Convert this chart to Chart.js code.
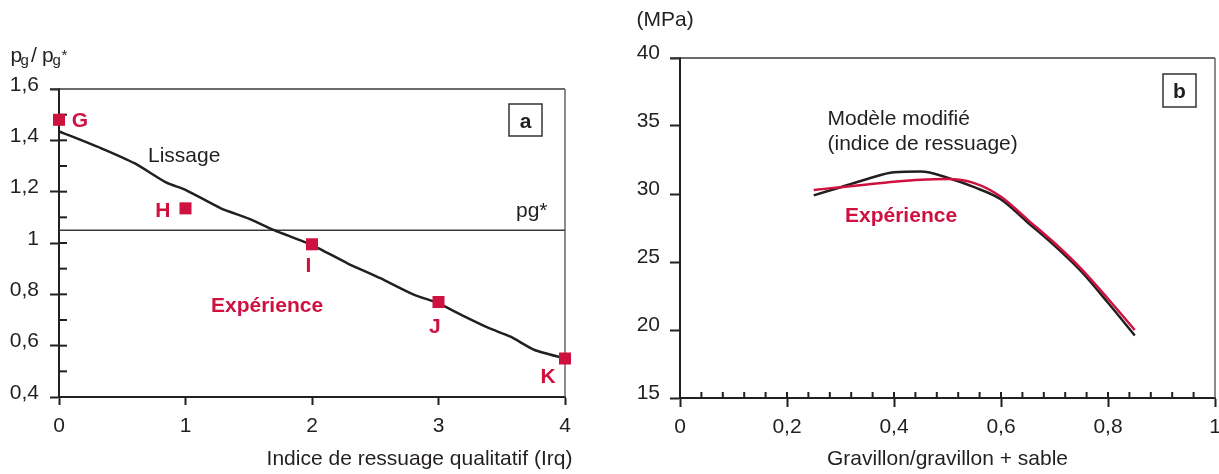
<!DOCTYPE html>
<html>
<head>
<meta charset="utf-8">
<script src="https://cdn.jsdelivr.net/npm/chart.js@4.4.1/dist/chart.umd.min.js"></script>
<style>
  body { margin: 0; background: #fff; }
  #wrap { position: relative; width: 1219px; height: 474px; }
  canvas { position: absolute; top: 0; }
</style>
</head>
<body>
<div id="wrap">
  <canvas id="chartA" width="600" height="474" style="left:0"></canvas>
  <canvas id="chartB" width="619" height="474" style="left:600px"></canvas>
</div>
<script>
// ---- Data: panel a (pg / pg* vs Irq) ----
const irqValues = [0, 1, 2, 3, 4];
const pgRatio = [1.48, 1.135, 0.995, 0.77, 0.55];
const pointNames = ['G', 'H', 'I', 'J', 'K'];
const lissageX = [0, 0.33, 0.6, 0.85, 1.0, 1.28, 1.5, 1.7, 2.0, 2.28, 2.54, 2.8, 3.0, 3.2, 3.4, 3.57, 3.76, 4.0];
const lissageY = [1.435, 1.37, 1.31, 1.235, 1.207, 1.135, 1.095, 1.05, 0.992, 0.921, 0.863, 0.80, 0.765, 0.715, 0.668, 0.635, 0.583, 0.55];
const pgStar = 1.05;

// ---- Data: panel b (MPa vs gravillon ratio) ----
const gravRatio = [0.25, 0.3, 0.35, 0.4, 0.45, 0.5, 0.55, 0.6, 0.65, 0.7, 0.75, 0.8, 0.85];
const modeleMPa = [29.9, 30.5, 31.1, 31.6, 31.65, 31.2, 30.5, 29.6, 27.9, 26.2, 24.3, 22.0, 19.6];
const experienceMPa = [30.3, 30.5, 30.7, 30.9, 31.05, 31.1, 30.8, 29.8, 28.1, 26.4, 24.5, 22.3, 20.0];

const INK = '#231f20';
const RED = '#cf1140';
const FONT = '"Liberation Sans", Arial, Helvetica, sans-serif';

const toPts = (xs, ys) => xs.map((x, i) => ({ x: x, y: ys[i] }));
const frLabel = v => String(Math.round(v * 100) / 100).replace('.', ',');

function text(ctx, str, x, y, opts = {}) {
  ctx.save();
  ctx.font = `${opts.bold ? 'bold ' : ''}${opts.size || 21}px ${FONT}`;
  ctx.fillStyle = opts.color || INK;
  ctx.textAlign = opts.align || 'left';
  ctx.textBaseline = 'alphabetic';
  ctx.fillText(str, x, y);
  ctx.restore();
}

function line(ctx, x1, y1, x2, y2, color, width) {
  ctx.save();
  ctx.strokeStyle = color;
  ctx.lineWidth = width;
  ctx.beginPath();
  ctx.moveTo(x1, y1);
  ctx.lineTo(x2, y2);
  ctx.stroke();
  ctx.restore();
}

function letterBox(ctx, letter, x, y, w, h) {
  ctx.save();
  ctx.strokeStyle = '#333';
  ctx.lineWidth = 1.5;
  ctx.strokeRect(x, y, w, h);
  ctx.restore();
  text(ctx, letter, x + w / 2, y + h / 2 + 7.5, { bold: true, align: 'center' });
}

// frame (top + right) and inside ticks, drawn under the datasets
const frameA = {
  id: 'frameA',
  beforeDatasetsDraw(chart) {
    const { ctx, chartArea: a, scales } = chart;
    line(ctx, a.left - 9, a.top, a.right, a.top, '#3a3a3a', 1.5);
    line(ctx, a.right, a.top, a.right, a.bottom, '#666', 1.5);
    // inside ticks on y axis every 0.1
    for (let k = 5; k <= 15; k++) {
      const py = scales.y.getPixelForValue(k / 10);
      line(ctx, a.left, py, a.left + 8, py, INK, 2);
    }
  },
  afterDraw(chart) {
    const { ctx, scales } = chart;
    const sx = scales.x, sy = scales.y;
    // point letters
    const offs = [[21, 7.5], [-22.7, 8.2], [-3.7, 28], [-3.7, 30.5], [-17, 24]];
    pointNames.forEach((n, i) => {
      const px = sx.getPixelForValue(irqValues[i]);
      const py = sy.getPixelForValue(pgRatio[i]);
      text(ctx, n, px + offs[i][0], py + offs[i][1], { bold: true, color: RED, align: 'center' });
    });
    text(ctx, 'Lissage', 148, 162);
    text(ctx, 'pg*', 516, 217);
    text(ctx, 'Expérience', 211, 312, { bold: true, color: RED });
    letterBox(ctx, 'a', 509, 104, 33, 32);
    // y title pg / pg*
    text(ctx, 'p', 10.5, 62);
    text(ctx, 'g', 20.5, 65, { size: 15 });
    text(ctx, '/', 31, 62);
    text(ctx, 'p', 42, 62);
    text(ctx, 'g', 52.5, 65, { size: 15 });
    text(ctx, '*', 61.5, 60, { size: 15 });
    // x title
    text(ctx, 'Indice de ressuage qualitatif (Irq)', 419.5, 465, { align: 'center' });
  }
};

const frameB = {
  id: 'frameB',
  beforeDatasetsDraw(chart) {
    const { ctx, chartArea: a, scales } = chart;
    line(ctx, a.left - 10, a.top, a.right, a.top, '#3a3a3a', 1.5);
    line(ctx, a.right, a.top, a.right, a.bottom, '#666', 1.5);
    // inside ticks on x axis every 0.04
    for (let k = 1; k <= 24; k++) {
      const px = scales.x.getPixelForValue(k * 0.04);
      line(ctx, px, a.bottom, px, a.bottom - 6, INK, 2);
    }
  },
  afterDraw(chart) {
    const { ctx } = chart;
    text(ctx, '(MPa)', 36.5, 26);
    text(ctx, 'Modèle modifié', 227.5, 125);
    text(ctx, '(indice de ressuage)', 227.5, 150);
    text(ctx, 'Expérience', 245, 222, { bold: true, color: RED });
    letterBox(ctx, 'b', 563, 74, 33, 33);
    text(ctx, 'Gravillon/gravillon + sable', 347.5, 465, { align: 'center' });
  }
};

const tickFont = { family: FONT, size: 21 };

function axisX(min, max, step, tickLen, pad, h) {
  return {
    type: 'linear', min: min, max: max,
    ticks: { stepSize: step, color: INK, font: tickFont, padding: pad, callback: frLabel, maxRotation: 0 },
    grid: { display: true, drawOnChartArea: false, drawTicks: true, tickLength: tickLen, tickWidth: 2, tickColor: INK },
    border: { display: true, color: INK, width: 2 },
    afterFit: s => { s.height = h; s.paddingLeft = 0; s.paddingRight = 0; }
  };
}

function axisY(min, max, step, tickLen, pad, off, w) {
  return {
    type: 'linear', min: min, max: max,
    ticks: { stepSize: step, color: INK, font: tickFont, padding: pad, labelOffset: off, callback: frLabel },
    grid: { display: true, drawOnChartArea: false, drawTicks: true, tickLength: tickLen, tickWidth: 2, tickColor: INK },
    border: { display: true, color: INK, width: 2 },
    afterFit: s => { s.width = w; s.paddingTop = 0; s.paddingBottom = 0; }
  };
}

const baseOptions = {
  responsive: false,
  animation: false,
  events: [],
  plugins: { legend: { display: false }, tooltip: { enabled: false } }
};

new Chart(document.getElementById('chartA'), {
  type: 'scatter',
  data: {
    datasets: [
      {
        label: 'Expérience',
        data: toPts(irqValues, pgRatio),
        pointStyle: 'rect',
        pointRadius: 8.5,
        backgroundColor: RED,
        borderWidth: 0,
        clip: false
      },
      {
        label: 'Lissage',
        data: toPts(lissageX, lissageY),
        showLine: true,
        borderColor: INK,
        borderWidth: 2.5,
        pointRadius: 0,
        tension: 0.2
      },
      {
        label: 'pg*',
        data: toPts([0, 4], [pgStar, pgStar]),
        showLine: true,
        borderColor: '#3a3a3a',
        borderWidth: 1.5,
        pointRadius: 0
      }
    ]
  },
  options: Object.assign({}, baseOptions, {
    layout: { padding: { top: 89, right: 35, left: 0, bottom: 0 } },
    scales: {
      x: axisX(0, 4, 1, 8, 9, 77),
      y: axisY(0.4, 1.6, 0.2, 9, 11, -4, 59)
    }
  }),
  plugins: [frameA]
});

new Chart(document.getElementById('chartB'), {
  type: 'scatter',
  data: {
    datasets: [
      {
        label: 'Expérience',
        data: toPts(gravRatio, experienceMPa),
        showLine: true,
        borderColor: RED,
        borderWidth: 2.5,
        pointRadius: 0,
        cubicInterpolationMode: 'monotone'
      },
      {
        label: 'Modèle modifié',
        data: toPts(gravRatio, modeleMPa),
        showLine: true,
        borderColor: INK,
        borderWidth: 2.5,
        pointRadius: 0,
        cubicInterpolationMode: 'monotone'
      }
    ]
  },
  options: Object.assign({}, baseOptions, {
    layout: { padding: { top: 58, right: 4, left: 0, bottom: 0 } },
    scales: {
      x: axisX(0, 1, 0.2, 9, 8, 76),
      y: axisY(15, 40, 5, 10, 10, -5, 80)
    }
  }),
  plugins: [frameB]
});
</script>
</body>
</html>
